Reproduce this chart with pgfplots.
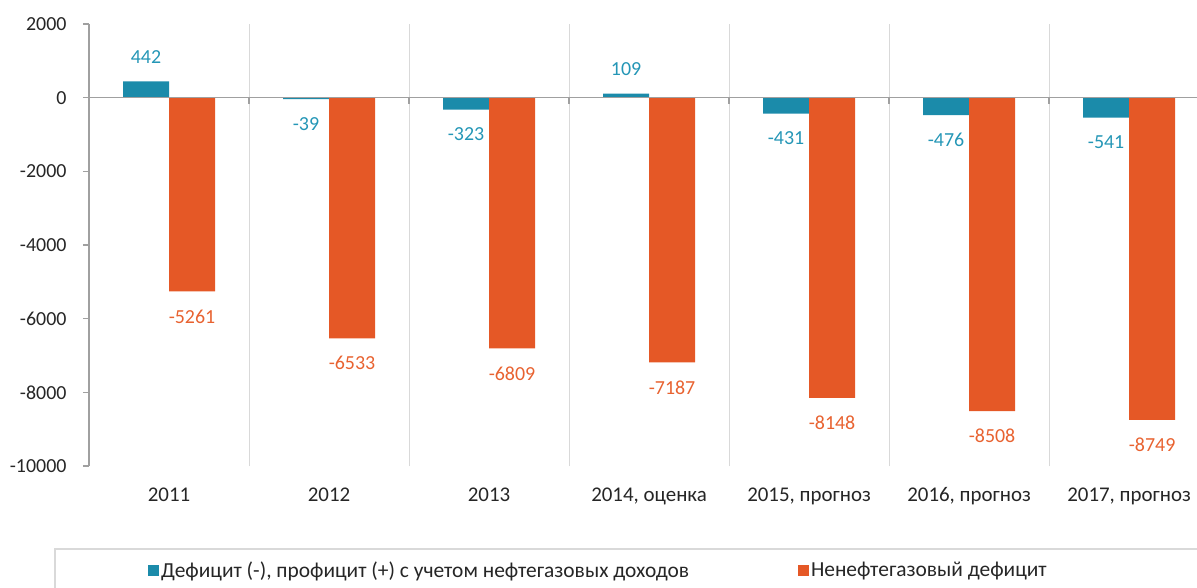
\documentclass[border=0pt]{standalone}
\usepackage{pgfplots}
\pgfplotsset{compat=1.18}
\usepackage{fontspec}
\setmainfont{Carlito}
\definecolor{tealbar}{RGB}{27,139,170}
\definecolor{tealtxt}{RGB}{36,150,182}
\definecolor{orangebar}{RGB}{229,88,38}
\definecolor{orangetxt}{RGB}{232,98,48}
\definecolor{axisgray}{RGB}{160,160,160}
\definecolor{gridgray}{RGB}{217,217,217}
\definecolor{txt}{RGB}{38,38,38}
\newcommand\lbl{\fontsize{20}{24}\selectfont}
\begin{document}
\begin{tikzpicture}
\useasboundingbox (-89bp,-122bp) rectangle (1108bp,466bp);
\begin{axis}[
  at={(0,0)}, anchor=south west,
  scale only axis, width=1108bp, height=442bp,
  xmin=-0.5, xmax=6.425, ymin=-10000, ymax=2000,
  ybar=0pt, bar width=46bp,
  axis y line*=left, axis x line*=bottom,
  x axis line style={draw=none},
  y axis line style={axisgray, line width=1.3bp},
  xtick=data,
  xticklabels={2011,2012,2013,{2014, оценка},{2015, прогноз},{2016, прогноз},{2017, прогноз}},
  xtick style={draw=none},
  minor xtick={0.5,1.5,2.5,3.5,4.5,5.5},
  minor tick length=0pt,
  xminorgrids, minor grid style={gridgray, line width=1bp},
  ytick={-10000,-8000,-6000,-4000,-2000,0,2000},
  yticklabels={-10000,-8000,-6000,-4000,-2000,0,2000},
  scaled y ticks=false,
  ytick style={axisgray, line width=1.3bp},
  tick align=outside, major tick length=6bp,
  ticklabel style={font=\lbl, text=txt},
  xticklabel style={yshift=-12bp, font=\fontsize{21}{24}\selectfont},
  yticklabel style={xshift=-13bp},
  /pgf/number format/assume math mode=true,
  /pgf/number format/1000 sep={},
  nodes near coords,
  nodes near coords style={font=\lbl, inner ysep=18bp},
  legend columns=2,
  legend style={draw=none, fill=none, inner sep=0pt,
    font=\fontsize{21.5}{24}\selectfont, text=txt,
    at={(axis description cs:0.0532,-0.2353)}, anchor=west,
    nodes={inner xsep=2bp},
    /tikz/every even column/.style={column sep=107bp}},
  legend image code/.code={\fill[#1] (0bp,-5.5bp) rectangle (11bp,5.5bp);},
]
\addplot[fill=tealbar, draw=none, nodes near coords style={text=tealtxt}]
  coordinates {(0,442) (1,-39) (2,-323) (3,109) (4,-431) (5,-476) (6,-541)};
\addlegendentry{Дефицит (-), профицит (+) с учетом нефтегазовых доходов}
\addplot[fill=orangebar, draw=none, nodes near coords style={text=orangetxt}]
  coordinates {(0,-5261) (1,-6533) (2,-6809) (3,-7187) (4,-8148) (5,-8508) (6,-8749)};
\addlegendentry{Ненефтегазовый дефицит}
\draw[axisgray, line width=1.6bp] (axis cs:-0.5,0) -- (axis cs:6.425,0);
\pgfplotsinvokeforeach{0.5,1.5,2.5,3.5,4.5,5.5}{
  \draw[axisgray, line width=1.3bp] (axis cs:#1,0) -- ([yshift=-6bp]axis cs:#1,0);
}
\end{axis}
\draw[gridgray, line width=1.5bp] (-34bp,-83bp) rectangle (1250bp,-160bp);
\end{tikzpicture}
\end{document}
